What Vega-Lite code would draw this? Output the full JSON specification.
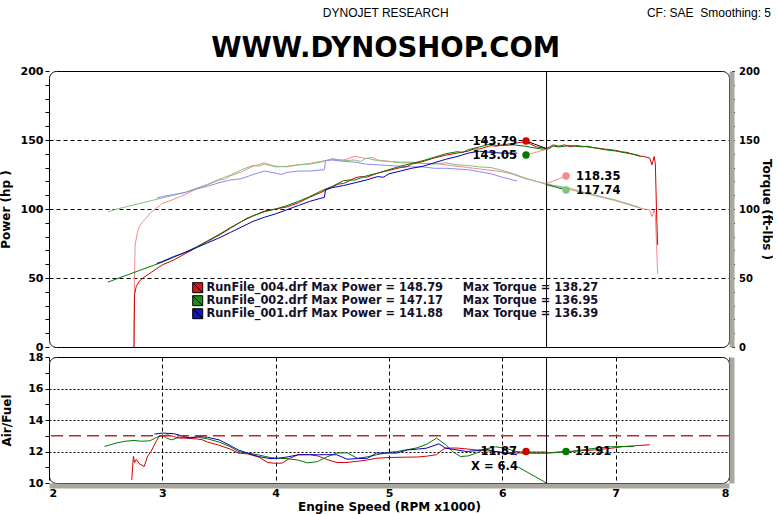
{
"$schema":"https://vega.github.io/schema/vega-lite/v6.json",
"background":"white",
"padding":{"left":-2,"top":6,"right":0,"bottom":30},
"config":{
 "view":{"stroke":"#000000","strokeWidth":1,"cornerRadius":7},
 "axis":{"labelFont":"DejaVu Sans","labelFontSize":11,"labelFontWeight":"bold","labelColor":"#000000","titleFont":"DejaVu Sans","titleFontSize":12,"titleFontWeight":"bold","titleColor":"#000000","tickColor":"#000000","domainColor":"#aba79e","gridColor":"#000000"},
 "text":{"font":"DejaVu Sans"}
},
"title":{"text":"DYNOJET RESEARCH","subtitle":"WWW.DYNOSHOP.COM","anchor":"middle","font":"Liberation Sans","fontSize":12,"fontWeight":"normal","color":"#000000","subtitleFont":"DejaVu Sans","subtitleFontSize":27.5,"subtitleFontWeight":"bold","subtitleColor":"#000000","subtitlePadding":15,"offset":-57},
"spacing":10,
"bounds":"flush",
"datasets":{
 "hp":[
  {"s":"004 hp","rpm":2.75,"v":0},{"s":"004 hp","rpm":2.752,"v":20},{"s":"004 hp","rpm":2.755,"v":38},{"s":"004 hp","rpm":2.77,"v":44},{"s":"004 hp","rpm":2.8,"v":48},{"s":"004 hp","rpm":2.83,"v":50},{"s":"004 hp","rpm":2.9,"v":54},{"s":"004 hp","rpm":3.0,"v":59.5},{"s":"004 hp","rpm":3.1,"v":63},{"s":"004 hp","rpm":3.2,"v":67.5},{"s":"004 hp","rpm":3.3,"v":72},{"s":"004 hp","rpm":3.4,"v":76.5},{"s":"004 hp","rpm":3.5,"v":81},{"s":"004 hp","rpm":3.6,"v":86},{"s":"004 hp","rpm":3.7,"v":91},{"s":"004 hp","rpm":3.8,"v":95},{"s":"004 hp","rpm":3.9,"v":98.5},{"s":"004 hp","rpm":4.0,"v":100},{"s":"004 hp","rpm":4.1,"v":101.5},{"s":"004 hp","rpm":4.2,"v":104.5},{"s":"004 hp","rpm":4.3,"v":108.5},{"s":"004 hp","rpm":4.4,"v":112},{"s":"004 hp","rpm":4.5,"v":116},{"s":"004 hp","rpm":4.55,"v":118},{"s":"004 hp","rpm":4.6,"v":118.5},{"s":"004 hp","rpm":4.7,"v":122.5},{"s":"004 hp","rpm":4.75,"v":123.5},{"s":"004 hp","rpm":4.8,"v":123},{"s":"004 hp","rpm":4.9,"v":126},{"s":"004 hp","rpm":5.0,"v":128},{"s":"004 hp","rpm":5.1,"v":130},{"s":"004 hp","rpm":5.15,"v":130.5},{"s":"004 hp","rpm":5.2,"v":132.5},{"s":"004 hp","rpm":5.3,"v":134.5},{"s":"004 hp","rpm":5.4,"v":137},{"s":"004 hp","rpm":5.5,"v":139},{"s":"004 hp","rpm":5.6,"v":140.5},{"s":"004 hp","rpm":5.7,"v":142},{"s":"004 hp","rpm":5.75,"v":143.5},{"s":"004 hp","rpm":5.8,"v":143.5},{"s":"004 hp","rpm":5.9,"v":146},{"s":"004 hp","rpm":5.95,"v":145.5},{"s":"004 hp","rpm":6.0,"v":146.5},{"s":"004 hp","rpm":6.1,"v":147.5},{"s":"004 hp","rpm":6.2,"v":148.8},{"s":"004 hp","rpm":6.25,"v":147},{"s":"004 hp","rpm":6.3,"v":145},{"s":"004 hp","rpm":6.39,"v":143.8},{"s":"004 hp","rpm":6.45,"v":146.5},{"s":"004 hp","rpm":6.5,"v":145.5},{"s":"004 hp","rpm":6.55,"v":146.5},{"s":"004 hp","rpm":6.6,"v":145},{"s":"004 hp","rpm":6.65,"v":146},{"s":"004 hp","rpm":6.7,"v":145.5},{"s":"004 hp","rpm":6.8,"v":144.5},{"s":"004 hp","rpm":6.9,"v":143.5},{"s":"004 hp","rpm":6.95,"v":143},{"s":"004 hp","rpm":7.0,"v":142.5},{"s":"004 hp","rpm":7.05,"v":141.5},{"s":"004 hp","rpm":7.1,"v":141},{"s":"004 hp","rpm":7.2,"v":138.5},{"s":"004 hp","rpm":7.25,"v":138},{"s":"004 hp","rpm":7.3,"v":137},{"s":"004 hp","rpm":7.32,"v":132},{"s":"004 hp","rpm":7.34,"v":138},{"s":"004 hp","rpm":7.35,"v":133},{"s":"004 hp","rpm":7.36,"v":100},{"s":"004 hp","rpm":7.37,"v":74},
  {"s":"002 hp","rpm":2.52,"v":47},{"s":"002 hp","rpm":2.6,"v":49.5},{"s":"002 hp","rpm":2.7,"v":52.5},{"s":"002 hp","rpm":2.8,"v":55.5},{"s":"002 hp","rpm":2.9,"v":58.5},{"s":"002 hp","rpm":3.0,"v":61.5},{"s":"002 hp","rpm":3.1,"v":65},{"s":"002 hp","rpm":3.2,"v":68.5},{"s":"002 hp","rpm":3.3,"v":72.5},{"s":"002 hp","rpm":3.4,"v":77},{"s":"002 hp","rpm":3.5,"v":81.5},{"s":"002 hp","rpm":3.6,"v":86.5},{"s":"002 hp","rpm":3.7,"v":91},{"s":"002 hp","rpm":3.75,"v":93.5},{"s":"002 hp","rpm":3.8,"v":95},{"s":"002 hp","rpm":3.9,"v":98},{"s":"002 hp","rpm":4.0,"v":100},{"s":"002 hp","rpm":4.1,"v":102.5},{"s":"002 hp","rpm":4.2,"v":105.5},{"s":"002 hp","rpm":4.3,"v":109},{"s":"002 hp","rpm":4.4,"v":113},{"s":"002 hp","rpm":4.5,"v":116.5},{"s":"002 hp","rpm":4.6,"v":120.5},{"s":"002 hp","rpm":4.65,"v":121},{"s":"002 hp","rpm":4.7,"v":121},{"s":"002 hp","rpm":4.8,"v":124},{"s":"002 hp","rpm":4.9,"v":126},{"s":"002 hp","rpm":5.0,"v":128.5},{"s":"002 hp","rpm":5.1,"v":131},{"s":"002 hp","rpm":5.2,"v":133},{"s":"002 hp","rpm":5.3,"v":135},{"s":"002 hp","rpm":5.4,"v":137.5},{"s":"002 hp","rpm":5.5,"v":140},{"s":"002 hp","rpm":5.6,"v":141.5},{"s":"002 hp","rpm":5.65,"v":141},{"s":"002 hp","rpm":5.7,"v":143},{"s":"002 hp","rpm":5.8,"v":145},{"s":"002 hp","rpm":5.9,"v":147.2},{"s":"002 hp","rpm":5.95,"v":146},{"s":"002 hp","rpm":6.0,"v":146},{"s":"002 hp","rpm":6.1,"v":146.5},{"s":"002 hp","rpm":6.2,"v":145.5},{"s":"002 hp","rpm":6.3,"v":144},{"s":"002 hp","rpm":6.39,"v":143},{"s":"002 hp","rpm":6.45,"v":145.5},{"s":"002 hp","rpm":6.5,"v":145},{"s":"002 hp","rpm":6.6,"v":146},{"s":"002 hp","rpm":6.7,"v":145},{"s":"002 hp","rpm":6.75,"v":145.5},{"s":"002 hp","rpm":6.8,"v":144.5},{"s":"002 hp","rpm":6.9,"v":143},{"s":"002 hp","rpm":7.0,"v":142},{"s":"002 hp","rpm":7.1,"v":140.5},{"s":"002 hp","rpm":7.2,"v":139},{"s":"002 hp","rpm":7.22,"v":138},
  {"s":"001 hp","rpm":2.95,"v":60.5},{"s":"001 hp","rpm":3.0,"v":62},{"s":"001 hp","rpm":3.1,"v":65.5},{"s":"001 hp","rpm":3.2,"v":68.5},{"s":"001 hp","rpm":3.3,"v":72},{"s":"001 hp","rpm":3.4,"v":75.5},{"s":"001 hp","rpm":3.5,"v":79},{"s":"001 hp","rpm":3.6,"v":83},{"s":"001 hp","rpm":3.7,"v":87},{"s":"001 hp","rpm":3.8,"v":91},{"s":"001 hp","rpm":3.9,"v":94},{"s":"001 hp","rpm":4.0,"v":96.5},{"s":"001 hp","rpm":4.1,"v":99.5},{"s":"001 hp","rpm":4.2,"v":102.5},{"s":"001 hp","rpm":4.3,"v":105.5},{"s":"001 hp","rpm":4.43,"v":108.5},{"s":"001 hp","rpm":4.44,"v":114},{"s":"001 hp","rpm":4.5,"v":115.5},{"s":"001 hp","rpm":4.6,"v":117},{"s":"001 hp","rpm":4.7,"v":119},{"s":"001 hp","rpm":4.8,"v":121},{"s":"001 hp","rpm":4.9,"v":123.5},{"s":"001 hp","rpm":4.95,"v":123},{"s":"001 hp","rpm":5.0,"v":125.5},{"s":"001 hp","rpm":5.1,"v":127.5},{"s":"001 hp","rpm":5.2,"v":129.5},{"s":"001 hp","rpm":5.3,"v":131},{"s":"001 hp","rpm":5.4,"v":133.5},{"s":"001 hp","rpm":5.5,"v":136},{"s":"001 hp","rpm":5.6,"v":138},{"s":"001 hp","rpm":5.7,"v":140.5},{"s":"001 hp","rpm":5.8,"v":141.9},{"s":"001 hp","rpm":5.9,"v":141},{"s":"001 hp","rpm":6.0,"v":140.5},{"s":"001 hp","rpm":6.13,"v":140.5}
 ],
 "tq":[
  {"s":"004 tq","rpm":2.75,"v":0},{"s":"004 tq","rpm":2.752,"v":30},{"s":"004 tq","rpm":2.755,"v":55},{"s":"004 tq","rpm":2.76,"v":74},{"s":"004 tq","rpm":2.78,"v":83},{"s":"004 tq","rpm":2.8,"v":88},{"s":"004 tq","rpm":2.83,"v":91},{"s":"004 tq","rpm":2.9,"v":97.5},{"s":"004 tq","rpm":3.0,"v":104},{"s":"004 tq","rpm":3.1,"v":107},{"s":"004 tq","rpm":3.2,"v":110.5},{"s":"004 tq","rpm":3.3,"v":114.5},{"s":"004 tq","rpm":3.4,"v":117.5},{"s":"004 tq","rpm":3.5,"v":121},{"s":"004 tq","rpm":3.55,"v":121.5},{"s":"004 tq","rpm":3.6,"v":124},{"s":"004 tq","rpm":3.7,"v":127},{"s":"004 tq","rpm":3.8,"v":131},{"s":"004 tq","rpm":3.9,"v":133.5},{"s":"004 tq","rpm":3.95,"v":132},{"s":"004 tq","rpm":4.0,"v":131},{"s":"004 tq","rpm":4.1,"v":130.5},{"s":"004 tq","rpm":4.2,"v":132},{"s":"004 tq","rpm":4.3,"v":133},{"s":"004 tq","rpm":4.4,"v":134.5},{"s":"004 tq","rpm":4.5,"v":136},{"s":"004 tq","rpm":4.6,"v":135.5},{"s":"004 tq","rpm":4.7,"v":138.2},{"s":"004 tq","rpm":4.8,"v":136.5},{"s":"004 tq","rpm":4.85,"v":137.5},{"s":"004 tq","rpm":4.9,"v":135.5},{"s":"004 tq","rpm":5.0,"v":134.5},{"s":"004 tq","rpm":5.1,"v":134},{"s":"004 tq","rpm":5.2,"v":134},{"s":"004 tq","rpm":5.3,"v":133},{"s":"004 tq","rpm":5.4,"v":133},{"s":"004 tq","rpm":5.5,"v":132},{"s":"004 tq","rpm":5.6,"v":131},{"s":"004 tq","rpm":5.7,"v":130},{"s":"004 tq","rpm":5.8,"v":129},{"s":"004 tq","rpm":5.9,"v":128},{"s":"004 tq","rpm":6.0,"v":127},{"s":"004 tq","rpm":6.1,"v":125},{"s":"004 tq","rpm":6.2,"v":122},{"s":"004 tq","rpm":6.3,"v":120},{"s":"004 tq","rpm":6.39,"v":118.4},{"s":"004 tq","rpm":6.5,"v":116},{"s":"004 tq","rpm":6.6,"v":114},{"s":"004 tq","rpm":6.7,"v":112},{"s":"004 tq","rpm":6.8,"v":110},{"s":"004 tq","rpm":6.9,"v":108},{"s":"004 tq","rpm":7.0,"v":106},{"s":"004 tq","rpm":7.1,"v":103.5},{"s":"004 tq","rpm":7.2,"v":101},{"s":"004 tq","rpm":7.25,"v":100},{"s":"004 tq","rpm":7.3,"v":99.5},{"s":"004 tq","rpm":7.32,"v":94.5},{"s":"004 tq","rpm":7.34,"v":99.5},{"s":"004 tq","rpm":7.35,"v":96},{"s":"004 tq","rpm":7.36,"v":75},{"s":"004 tq","rpm":7.37,"v":53},
  {"s":"002 tq","rpm":2.52,"v":98},{"s":"002 tq","rpm":2.6,"v":100},{"s":"002 tq","rpm":2.7,"v":102},{"s":"002 tq","rpm":2.8,"v":104},{"s":"002 tq","rpm":2.9,"v":106},{"s":"002 tq","rpm":3.0,"v":108},{"s":"002 tq","rpm":3.1,"v":110},{"s":"002 tq","rpm":3.2,"v":112},{"s":"002 tq","rpm":3.3,"v":115},{"s":"002 tq","rpm":3.4,"v":118},{"s":"002 tq","rpm":3.5,"v":121.5},{"s":"002 tq","rpm":3.6,"v":124.5},{"s":"002 tq","rpm":3.7,"v":128.5},{"s":"002 tq","rpm":3.8,"v":131.5},{"s":"002 tq","rpm":3.85,"v":131},{"s":"002 tq","rpm":3.9,"v":132.5},{"s":"002 tq","rpm":4.0,"v":130.5},{"s":"002 tq","rpm":4.1,"v":131},{"s":"002 tq","rpm":4.2,"v":132},{"s":"002 tq","rpm":4.3,"v":132.5},{"s":"002 tq","rpm":4.4,"v":134},{"s":"002 tq","rpm":4.5,"v":136.5},{"s":"002 tq","rpm":4.6,"v":135},{"s":"002 tq","rpm":4.7,"v":135.5},{"s":"002 tq","rpm":4.75,"v":134.5},{"s":"002 tq","rpm":4.8,"v":136.9},{"s":"002 tq","rpm":4.9,"v":135},{"s":"002 tq","rpm":5.0,"v":134.5},{"s":"002 tq","rpm":5.1,"v":133.5},{"s":"002 tq","rpm":5.2,"v":133.5},{"s":"002 tq","rpm":5.3,"v":133},{"s":"002 tq","rpm":5.4,"v":132.5},{"s":"002 tq","rpm":5.5,"v":133.5},{"s":"002 tq","rpm":5.6,"v":132},{"s":"002 tq","rpm":5.7,"v":131.5},{"s":"002 tq","rpm":5.8,"v":130.5},{"s":"002 tq","rpm":5.9,"v":130},{"s":"002 tq","rpm":6.0,"v":128},{"s":"002 tq","rpm":6.1,"v":125.5},{"s":"002 tq","rpm":6.2,"v":122.5},{"s":"002 tq","rpm":6.3,"v":120},{"s":"002 tq","rpm":6.39,"v":117.7},{"s":"002 tq","rpm":6.5,"v":116.5},{"s":"002 tq","rpm":6.6,"v":115},{"s":"002 tq","rpm":6.7,"v":112.5},{"s":"002 tq","rpm":6.8,"v":110.5},{"s":"002 tq","rpm":6.9,"v":108.5},{"s":"002 tq","rpm":7.0,"v":106.5},{"s":"002 tq","rpm":7.1,"v":104},{"s":"002 tq","rpm":7.2,"v":101.5},{"s":"002 tq","rpm":7.22,"v":100.5},
  {"s":"001 tq","rpm":2.95,"v":108},{"s":"001 tq","rpm":3.0,"v":109},{"s":"001 tq","rpm":3.1,"v":110.5},{"s":"001 tq","rpm":3.2,"v":112},{"s":"001 tq","rpm":3.3,"v":114.5},{"s":"001 tq","rpm":3.4,"v":116.5},{"s":"001 tq","rpm":3.5,"v":119},{"s":"001 tq","rpm":3.6,"v":121},{"s":"001 tq","rpm":3.7,"v":122},{"s":"001 tq","rpm":3.8,"v":125},{"s":"001 tq","rpm":3.9,"v":127.5},{"s":"001 tq","rpm":4.0,"v":126},{"s":"001 tq","rpm":4.05,"v":125},{"s":"001 tq","rpm":4.1,"v":126.5},{"s":"001 tq","rpm":4.2,"v":127.5},{"s":"001 tq","rpm":4.3,"v":127.5},{"s":"001 tq","rpm":4.43,"v":128.5},{"s":"001 tq","rpm":4.44,"v":135},{"s":"001 tq","rpm":4.5,"v":135.5},{"s":"001 tq","rpm":4.6,"v":134.5},{"s":"001 tq","rpm":4.7,"v":134},{"s":"001 tq","rpm":4.8,"v":132.5},{"s":"001 tq","rpm":4.9,"v":132},{"s":"001 tq","rpm":5.0,"v":131.5},{"s":"001 tq","rpm":5.1,"v":131},{"s":"001 tq","rpm":5.2,"v":130.5},{"s":"001 tq","rpm":5.3,"v":130.5},{"s":"001 tq","rpm":5.4,"v":129.5},{"s":"001 tq","rpm":5.5,"v":129.5},{"s":"001 tq","rpm":5.6,"v":129},{"s":"001 tq","rpm":5.7,"v":128.5},{"s":"001 tq","rpm":5.8,"v":127},{"s":"001 tq","rpm":5.9,"v":125.5},{"s":"001 tq","rpm":6.0,"v":123},{"s":"001 tq","rpm":6.13,"v":120.3}
 ],
 "afr":[
  {"s":"004 hp","rpm":2.73,"a":10.2},{"s":"004 hp","rpm":2.745,"a":11.7},{"s":"004 hp","rpm":2.755,"a":11.3},{"s":"004 hp","rpm":2.77,"a":11.5},{"s":"004 hp","rpm":2.8,"a":11.2},{"s":"004 hp","rpm":2.84,"a":11.05},{"s":"004 hp","rpm":2.87,"a":11.7},{"s":"004 hp","rpm":2.9,"a":12.0},{"s":"004 hp","rpm":2.95,"a":12.7},{"s":"004 hp","rpm":2.97,"a":12.95},{"s":"004 hp","rpm":3.0,"a":13.0},{"s":"004 hp","rpm":3.05,"a":13.05},{"s":"004 hp","rpm":3.1,"a":12.95},{"s":"004 hp","rpm":3.15,"a":12.85},{"s":"004 hp","rpm":3.2,"a":12.85},{"s":"004 hp","rpm":3.3,"a":12.8},{"s":"004 hp","rpm":3.35,"a":12.75},{"s":"004 hp","rpm":3.4,"a":12.6},{"s":"004 hp","rpm":3.5,"a":12.4},{"s":"004 hp","rpm":3.6,"a":12.15},{"s":"004 hp","rpm":3.67,"a":11.9},{"s":"004 hp","rpm":3.75,"a":11.85},{"s":"004 hp","rpm":3.85,"a":11.65},{"s":"004 hp","rpm":3.93,"a":11.3},{"s":"004 hp","rpm":4.0,"a":11.25},{"s":"004 hp","rpm":4.06,"a":11.27},{"s":"004 hp","rpm":4.12,"a":11.55},{"s":"004 hp","rpm":4.2,"a":11.8},{"s":"004 hp","rpm":4.3,"a":11.8},{"s":"004 hp","rpm":4.37,"a":11.72},{"s":"004 hp","rpm":4.45,"a":11.5},{"s":"004 hp","rpm":4.54,"a":11.3},{"s":"004 hp","rpm":4.62,"a":11.3},{"s":"004 hp","rpm":4.72,"a":11.38},{"s":"004 hp","rpm":4.8,"a":11.45},{"s":"004 hp","rpm":4.89,"a":11.57},{"s":"004 hp","rpm":5.0,"a":11.62},{"s":"004 hp","rpm":5.16,"a":11.64},{"s":"004 hp","rpm":5.25,"a":11.65},{"s":"004 hp","rpm":5.33,"a":11.7},{"s":"004 hp","rpm":5.42,"a":11.8},{"s":"004 hp","rpm":5.47,"a":12.1},{"s":"004 hp","rpm":5.5,"a":12.22},{"s":"004 hp","rpm":5.6,"a":12.22},{"s":"004 hp","rpm":5.7,"a":12.15},{"s":"004 hp","rpm":5.77,"a":12.1},{"s":"004 hp","rpm":5.85,"a":12.05},{"s":"004 hp","rpm":5.94,"a":12.0},{"s":"004 hp","rpm":6.03,"a":11.9},{"s":"004 hp","rpm":6.2,"a":11.9},{"s":"004 hp","rpm":6.38,"a":11.9},{"s":"004 hp","rpm":6.5,"a":11.97},{"s":"004 hp","rpm":6.6,"a":12.0},{"s":"004 hp","rpm":6.7,"a":12.05},{"s":"004 hp","rpm":6.81,"a":12.1},{"s":"004 hp","rpm":6.95,"a":12.2},{"s":"004 hp","rpm":7.08,"a":12.32},{"s":"004 hp","rpm":7.2,"a":12.38},{"s":"004 hp","rpm":7.3,"a":12.43},
  {"s":"002 hp","rpm":2.49,"a":12.32},{"s":"002 hp","rpm":2.55,"a":12.45},{"s":"002 hp","rpm":2.6,"a":12.55},{"s":"002 hp","rpm":2.67,"a":12.65},{"s":"002 hp","rpm":2.75,"a":12.7},{"s":"002 hp","rpm":2.82,"a":12.65},{"s":"002 hp","rpm":2.89,"a":12.68},{"s":"002 hp","rpm":2.95,"a":12.9},{"s":"002 hp","rpm":3.0,"a":13.05},{"s":"002 hp","rpm":3.04,"a":12.85},{"s":"002 hp","rpm":3.08,"a":12.74},{"s":"002 hp","rpm":3.15,"a":12.9},{"s":"002 hp","rpm":3.25,"a":12.9},{"s":"002 hp","rpm":3.32,"a":12.9},{"s":"002 hp","rpm":3.4,"a":12.8},{"s":"002 hp","rpm":3.5,"a":12.6},{"s":"002 hp","rpm":3.6,"a":12.3},{"s":"002 hp","rpm":3.67,"a":12.0},{"s":"002 hp","rpm":3.75,"a":11.9},{"s":"002 hp","rpm":3.85,"a":11.78},{"s":"002 hp","rpm":3.95,"a":11.62},{"s":"002 hp","rpm":4.02,"a":11.57},{"s":"002 hp","rpm":4.1,"a":11.55},{"s":"002 hp","rpm":4.2,"a":11.45},{"s":"002 hp","rpm":4.28,"a":11.28},{"s":"002 hp","rpm":4.37,"a":11.36},{"s":"002 hp","rpm":4.45,"a":11.65},{"s":"002 hp","rpm":4.54,"a":11.9},{"s":"002 hp","rpm":4.63,"a":11.92},{"s":"002 hp","rpm":4.72,"a":11.57},{"s":"002 hp","rpm":4.8,"a":11.65},{"s":"002 hp","rpm":4.89,"a":11.79},{"s":"002 hp","rpm":5.0,"a":11.95},{"s":"002 hp","rpm":5.07,"a":12.0},{"s":"002 hp","rpm":5.15,"a":12.1},{"s":"002 hp","rpm":5.24,"a":12.22},{"s":"002 hp","rpm":5.33,"a":12.45},{"s":"002 hp","rpm":5.42,"a":12.85},{"s":"002 hp","rpm":5.5,"a":12.43},{"s":"002 hp","rpm":5.56,"a":12.0},{"s":"002 hp","rpm":5.63,"a":11.68},{"s":"002 hp","rpm":5.7,"a":11.72},{"s":"002 hp","rpm":5.77,"a":11.9},{"s":"002 hp","rpm":5.85,"a":12.15},{"s":"002 hp","rpm":5.94,"a":12.3},{"s":"002 hp","rpm":6.03,"a":12.2},{"s":"002 hp","rpm":6.12,"a":12.0},{"s":"002 hp","rpm":6.3,"a":11.9},{"s":"002 hp","rpm":6.45,"a":11.92},{"s":"002 hp","rpm":6.6,"a":12.0},{"s":"002 hp","rpm":6.81,"a":12.2},{"s":"002 hp","rpm":6.95,"a":12.3},{"s":"002 hp","rpm":7.08,"a":12.32},{"s":"002 hp","rpm":7.16,"a":12.32},
  {"s":"001 hp","rpm":2.93,"a":13.1},{"s":"001 hp","rpm":3.0,"a":13.17},{"s":"001 hp","rpm":3.1,"a":13.13},{"s":"001 hp","rpm":3.17,"a":13.0},{"s":"001 hp","rpm":3.24,"a":12.85},{"s":"001 hp","rpm":3.32,"a":12.96},{"s":"001 hp","rpm":3.4,"a":12.9},{"s":"001 hp","rpm":3.5,"a":12.74},{"s":"001 hp","rpm":3.58,"a":12.45},{"s":"001 hp","rpm":3.67,"a":12.1},{"s":"001 hp","rpm":3.75,"a":11.9},{"s":"001 hp","rpm":3.85,"a":11.68},{"s":"001 hp","rpm":3.95,"a":11.55},{"s":"001 hp","rpm":4.02,"a":11.57},{"s":"001 hp","rpm":4.1,"a":11.65},{"s":"001 hp","rpm":4.2,"a":11.79},{"s":"001 hp","rpm":4.3,"a":11.8},{"s":"001 hp","rpm":4.37,"a":11.79},{"s":"001 hp","rpm":4.45,"a":11.8},{"s":"001 hp","rpm":4.54,"a":11.79},{"s":"001 hp","rpm":4.63,"a":11.51},{"s":"001 hp","rpm":4.72,"a":11.55},{"s":"001 hp","rpm":4.81,"a":11.57},{"s":"001 hp","rpm":4.89,"a":11.9},{"s":"001 hp","rpm":5.0,"a":11.9},{"s":"001 hp","rpm":5.07,"a":11.9},{"s":"001 hp","rpm":5.16,"a":12.1},{"s":"001 hp","rpm":5.25,"a":12.15},{"s":"001 hp","rpm":5.33,"a":12.21},{"s":"001 hp","rpm":5.44,"a":12.49},{"s":"001 hp","rpm":5.5,"a":12.21},{"s":"001 hp","rpm":5.6,"a":12.1},{"s":"001 hp","rpm":5.68,"a":12.0},{"s":"001 hp","rpm":5.77,"a":12.05},{"s":"001 hp","rpm":5.85,"a":12.15},{"s":"001 hp","rpm":5.94,"a":12.0},{"s":"001 hp","rpm":6.03,"a":11.9},{"s":"001 hp","rpm":6.13,"a":11.79}
 ],
 "leadTop":[
  {"g":"l1","s":"cur","rpm":6.209,"v":149.3},{"g":"l1","s":"cur","rpm":6.39,"v":143.8},
  {"g":"l2","s":"004 tq","rpm":6.209,"v":139.1},{"g":"l2","s":"004 tq","rpm":6.39,"v":143.3},
  {"g":"l3","s":"004 tq","rpm":6.39,"v":118.4},{"g":"l3","s":"004 tq","rpm":6.562,"v":123.9},
  {"g":"l4","s":"002 hp","rpm":6.39,"v":117.7},{"g":"l4","s":"002 hp","rpm":6.562,"v":113.8}
 ],
 "dotTop":[
  {"s":"004 hp","rpm":6.209,"v":149.3},{"s":"002 hp","rpm":6.209,"v":139.1},{"s":"004 tq","rpm":6.562,"v":123.9},{"s":"002 tq","rpm":6.562,"v":113.8}
 ],
 "labTop":[
  {"al":"r","t":"143.79","rpm":6.129,"v":148.6},{"al":"r","t":"143.05","rpm":6.129,"v":138.4},
  {"al":"l","t":"118.35","rpm":6.65,"v":123.2},{"al":"l","t":"117.74","rpm":6.65,"v":113.0}
 ],
 "leg":[
  {"lab":"RunFile_004.drf Max Power = 148.79\u00a0\u00a0\u00a0\u00a0\u00a0Max Torque = 138.27"},
  {"lab":"RunFile_002.drf Max Power = 147.17\u00a0\u00a0\u00a0\u00a0\u00a0Max Torque = 136.95"},
  {"lab":"RunFile_001.drf Max Power = 141.88\u00a0\u00a0\u00a0\u00a0\u00a0Max Torque = 136.39"}
 ],
 "leadBot":[
  {"g":"b1","s":"002 hp","rpm":6.138,"a":11.02},{"g":"b1","s":"002 hp","rpm":6.39,"a":10.0},
  {"g":"b2","s":"002 tq","rpm":6.209,"a":12.0},{"g":"b2","s":"002 tq","rpm":6.39,"a":12.0}
 ],
 "dotBot":[
  {"s":"004 hp","rpm":6.209,"a":12.0},{"s":"002 hp","rpm":6.562,"a":12.0}
 ],
 "labBot":[
  {"al":"r","t":"11.87","rpm":6.129,"a":12.0},{"al":"r","t":"X = 6.4","rpm":6.138,"a":11.02},{"al":"l","t":"11.91","rpm":6.64,"a":12.0}
 ]
},
"vconcat":[
 {
  "width":680,"height":276,
  "resolve":{"axis":{"y":"independent"}},
  "layer":[
   {
    "data":{"name":"tq"},
    "mark":{"type":"line","strokeWidth":1},
    "encoding":{
     "x":{"field":"rpm","type":"quantitative","scale":{"domain":[2,8],"nice":false,"zero":false},"axis":{"title":null,"labels":false,"ticks":false,"domainWidth":5,"offset":2.5,"values":[3,4,5,6,7],"grid":true,"gridDash":[4,3],"gridWidth":1}},
     "y":{"field":"v","type":"quantitative","scale":{"domain":[0,200],"nice":false,"zero":false},"axis":{"orient":"right","title":"Torque (ft-lbs )","values":[0,10,20,30,40,50,60,70,80,90,100,110,120,130,140,150,160,170,180,190,200],"format":"d","labelExpr":"datum.value % 50 === 0 ? datum.label : ''","labelFontSize":10,"tickSize":3,"domainWidth":5,"offset":2.5,"grid":false,"labelPadding":4,"titlePadding":0}},
     "color":{"field":"s","type":"nominal","scale":{"domain":["004 hp","002 hp","001 hp","004 tq","002 tq","001 tq","cur"],"range":["#d40000","#007a00","#0000c0","#f28c8c","#84c084","#8c8cf2","#000000"]},"legend":null}
    }
   },
   {
    "data":{"name":"hp"},
    "mark":{"type":"line","strokeWidth":1},
    "encoding":{
     "x":{"field":"rpm","type":"quantitative","scale":{"domain":[2,8],"nice":false,"zero":false}},
     "y":{"field":"v","type":"quantitative","scale":{"domain":[0,200],"nice":false,"zero":false},"axis":{"orient":"left","title":"Power (hp )","values":[0,10,20,30,40,50,60,70,80,90,100,110,120,130,140,150,160,170,180,190,200],"format":"d","labelExpr":"datum.value % 50 === 0 ? datum.label : ''","domain":false,"tickSize":4,"labelPadding":2,"titlePadding":8,"grid":true,"gridDash":[4,3],"gridOpacity":{"condition":{"test":"datum.value % 50 === 0 && datum.value > 0 && datum.value < 200","value":1},"value":0}}},
     "color":{"field":"s","type":"nominal","scale":{"domain":["004 hp","002 hp","001 hp","004 tq","002 tq","001 tq","cur"],"range":["#d40000","#007a00","#0000c0","#f28c8c","#84c084","#8c8cf2","#000000"]},"legend":null}
    }
   },
   {
    "data":{"values":[{}]},
    "mark":{"type":"rule","color":"#000000","strokeWidth":1},
    "encoding":{"x":{"datum":6.39,"type":"quantitative","axis":null}}
   },
   {
    "data":{"name":"leadTop"},
    "mark":{"type":"line","strokeWidth":1},
    "encoding":{
     "x":{"field":"rpm","type":"quantitative","axis":null},
     "y":{"field":"v","type":"quantitative","axis":null},
     "detail":{"field":"g"},
     "color":{"field":"s","type":"nominal","legend":null}
    }
   },
   {
    "data":{"name":"dotTop"},
    "mark":{"type":"circle","size":55,"opacity":1},
    "encoding":{
     "x":{"field":"rpm","type":"quantitative","axis":null},
     "y":{"field":"v","type":"quantitative","axis":null},
     "color":{"field":"s","type":"nominal","legend":null}
    }
   },
   {
    "data":{"name":"labTop"},
    "transform":[{"filter":"datum.al === 'r'"}],
    "mark":{"type":"text","align":"right","baseline":"middle","font":"DejaVu Sans","fontSize":11.5,"fontWeight":"bold","color":"#000000"},
    "encoding":{
     "x":{"field":"rpm","type":"quantitative","axis":null},
     "y":{"field":"v","type":"quantitative","axis":null},
     "text":{"field":"t"}
    }
   },
   {
    "data":{"name":"labTop"},
    "transform":[{"filter":"datum.al === 'l'"}],
    "mark":{"type":"text","align":"left","baseline":"middle","font":"DejaVu Sans","fontSize":11.5,"fontWeight":"bold","color":"#000000"},
    "encoding":{
     "x":{"field":"rpm","type":"quantitative","axis":null},
     "y":{"field":"v","type":"quantitative","axis":null},
     "text":{"field":"t"}
    }
   },
   {
    "data":{"name":"leg"},
    "mark":{"type":"point","filled":true,"shape":"square","clip":true,"size":20,"stroke":"#000000"},
    "encoding":{
     "x":{"datum":5,"type":"quantitative","axis":null},
     "y":{"datum":-60,"type":"quantitative","axis":null},
     "fill":{"field":"lab","type":"nominal","sort":null,"scale":{"range":["#e01010","#1e8a1e","#1010d0"]},
       "legend":{"orient":"none","legendX":143,"legendY":211,"title":null,"symbolType":"M-1,-1H1V1H-1ZM-1,-1L1,1","symbolSize":100,"symbolStrokeColor":"#000000","symbolStrokeWidth":1,"symbolOpacity":1,"labelFont":"DejaVu Sans","labelFontSize":11.4,"labelFontWeight":"bold","labelColor":"#14102a","labelLimit":600,"labelOffset":3,"rowPadding":-2,"padding":0}}
    }
   },
   {
    "data":{"values":[{}]},
    "mark":{"type":"text","align":"right","baseline":"middle","dx":42,"dy":-58,"font":"Liberation Sans","fontSize":12,"color":"#000000"},
    "encoding":{
     "x":{"datum":8,"type":"quantitative","axis":null},
     "y":{"datum":200,"type":"quantitative","axis":null},
     "text":{"value":"CF: SAE\u00a0\u00a0Smoothing: 5"}
    }
   }
  ]
 },
 {
  "width":680,"height":126,
  "resolve":{"axis":{"y":"independent"}},
  "layer":[
   {
    "data":{"name":"afr"},
    "mark":{"type":"line","strokeWidth":1},
    "encoding":{
     "x":{"field":"rpm","type":"quantitative","scale":{"domain":[2,8],"nice":false,"zero":false},"axis":{"title":"Engine Speed (RPM x1000)","values":[2,3,4,5,6,7,8],"format":"d","ticks":false,"domainColor":"#aba79e","domainWidth":5,"offset":2.5,"labelPadding":2,"titlePadding":3,"grid":true,"gridDash":[4,3]}},
     "y":{"field":"a","type":"quantitative","scale":{"domain":[10,18],"nice":false,"zero":false},"axis":{"orient":"left","title":"Air/Fuel","values":[10,10.5,11,11.5,12,12.5,13,13.5,14,14.5,15,15.5,16,16.5,17,17.5,18],"format":"d","labelExpr":"datum.value % 2 === 0 ? datum.label : ''","domain":false,"tickSize":4,"labelPadding":2,"titlePadding":14,"grid":true,"gridDash":[2,2],"gridOpacity":{"condition":{"test":"datum.value % 2 === 0 && datum.value > 10 && datum.value < 18","value":1},"value":0}}},
     "color":{"field":"s","type":"nominal","scale":{"domain":["004 hp","002 hp","001 hp","004 tq","002 tq","001 tq","cur"],"range":["#d40000","#007a00","#0000c0","#f28c8c","#84c084","#8c8cf2","#000000"]},"legend":null}
    }
   },
   {
    "data":{"name":"leadBot"},
    "mark":{"type":"line","strokeWidth":1},
    "encoding":{
     "x":{"field":"rpm","type":"quantitative"},
     "y":{"field":"a","type":"quantitative","axis":null},
     "detail":{"field":"g"},
     "color":{"field":"s","type":"nominal","legend":null}
    }
   },
   {
    "data":{"values":[{}]},
    "mark":{"type":"rule","color":"#c42828","strokeWidth":1.3,"strokeDash":[12,6]},
    "encoding":{"y":{"datum":13,"type":"quantitative","axis":{"orient":"right","title":null,"labels":false,"ticks":false,"grid":false,"domainWidth":5,"offset":2.5}}}
   },
   {
    "data":{"values":[{}]},
    "mark":{"type":"rule","color":"#000000","strokeWidth":1},
    "encoding":{"x":{"datum":6.39,"type":"quantitative"}}
   },
   {
    "data":{"name":"dotBot"},
    "mark":{"type":"circle","size":55,"opacity":1},
    "encoding":{
     "x":{"field":"rpm","type":"quantitative"},
     "y":{"field":"a","type":"quantitative","axis":null},
     "color":{"field":"s","type":"nominal","legend":null}
    }
   },
   {
    "data":{"name":"labBot"},
    "transform":[{"filter":"datum.al === 'r'"}],
    "mark":{"type":"text","align":"right","baseline":"middle","font":"DejaVu Sans","fontSize":11.5,"fontWeight":"bold","color":"#000000"},
    "encoding":{
     "x":{"field":"rpm","type":"quantitative"},
     "y":{"field":"a","type":"quantitative","axis":null},
     "text":{"field":"t"}
    }
   },
   {
    "data":{"name":"labBot"},
    "transform":[{"filter":"datum.al === 'l'"}],
    "mark":{"type":"text","align":"left","baseline":"middle","font":"DejaVu Sans","fontSize":11.5,"fontWeight":"bold","color":"#000000"},
    "encoding":{
     "x":{"field":"rpm","type":"quantitative"},
     "y":{"field":"a","type":"quantitative","axis":null},
     "text":{"field":"t"}
    }
   }
  ]
 }
]
}
